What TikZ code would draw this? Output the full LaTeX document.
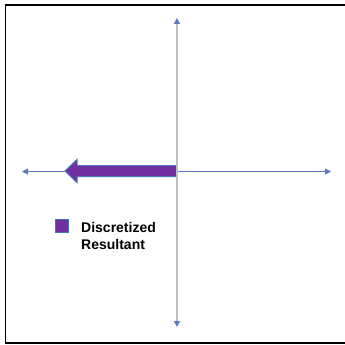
\documentclass[tikz,border=0pt]{standalone}
\usepackage{fontspec}
\setmainfont{Liberation Sans}
\usetikzlibrary{arrows.meta}
\definecolor{axblue}{HTML}{5B7BC0}
\definecolor{axgray}{HTML}{BFBFBF}
\definecolor{rpurple}{HTML}{7030A0}
\definecolor{rblue}{HTML}{4472C4}
\tikzset{
  haxis/.style={draw=axblue,line width=1pt,{Triangle[length=6pt,width=6pt]}-{Triangle[length=6pt,width=6pt]}},
  vaxis/.style={draw=axgray,line width=1.8pt,{Triangle[length=6pt,width=6pt,color=axblue]}-{Triangle[length=6pt,width=6pt,color=axblue]}},
  resarrow/.style={fill=rpurple,draw=rblue,line width=1pt},
  legbox/.style={fill=rpurple,draw=rblue,line width=1pt,minimum size=13pt,inner sep=0pt},
  legtext/.style={font=\bfseries\fontsize{14}{17}\selectfont,align=left,inner sep=0pt,anchor=base west},
  frame/.style={draw=black,line width=1.5pt}
}
\begin{document}
\begin{tikzpicture}[x=1pt,y=-1pt]
\useasboundingbox (0,0) rectangle (345,345);
\draw[frame] (346,5) -- (5.5,5) -- (5.5,343) -- (346,343);
\coordinate (xl) at (22,171.5);
\coordinate (xr) at (331,171.5);
\coordinate (yt) at (177,18);
\coordinate (yb) at (177,327);
\draw[haxis] (xl) -- (xr);
\draw[resarrow] (177,165.5) -- (77,165.5) -- (77,159.5) -- (65,171) -- (77,182.5) -- (77,176.5) -- (177,176.5) -- cycle;
\draw[vaxis] (yb) -- (yt);
\node[legbox] (lb) at (62,226) {};
\node[legtext] (lt) at (81,249) {Discretized\\Resultant};
\end{tikzpicture}
\end{document}
